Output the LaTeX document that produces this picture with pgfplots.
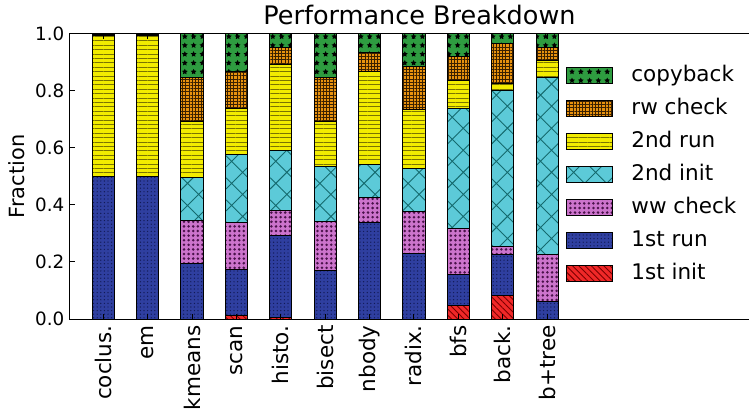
\documentclass[border=0pt]{standalone}
\usepackage{fontspec}
\setmainfont{DejaVu Sans}
\usepackage{pgfplots}
\usepackage{pgfplotstable}
\pgfplotsset{compat=1.18}
\usetikzlibrary{patterns.meta}

\definecolor{cInit}{HTML}{F02828}
\definecolor{cInitP}{HTML}{7A0000}
\definecolor{cRun}{HTML}{2F3FA0}
\definecolor{cRunP}{HTML}{121A55}
\definecolor{cWW}{HTML}{CC74CC}
\definecolor{cWWP}{HTML}{4A124A}
\definecolor{cInitB}{HTML}{5CCAD8}
\definecolor{cInitBP}{HTML}{156A6E}
\definecolor{cRunB}{HTML}{F2EC00}
\definecolor{cRunBP}{HTML}{7A7400}
\definecolor{cRW}{HTML}{E8920E}
\definecolor{cRWP}{HTML}{3A2000}
\definecolor{cCB}{HTML}{2E9C40}

% fraction of time per phase, one row per benchmark
\pgfplotstableread{
x  init   run    ww     initb  runb   rw     cb
0  0.000  0.500  0.000  0.000  0.495  0.003  0.002
1  0.000  0.500  0.000  0.000  0.495  0.003  0.002
2  0.000  0.195  0.150  0.153  0.195  0.154  0.153
3  0.011  0.161  0.165  0.241  0.159  0.133  0.130
4  0.007  0.285  0.089  0.209  0.304  0.059  0.047
5  0.000  0.170  0.173  0.192  0.158  0.154  0.153
6  0.000  0.340  0.088  0.113  0.328  0.066  0.065
7  0.000  0.229  0.149  0.151  0.206  0.152  0.113
8  0.046  0.111  0.160  0.420  0.100  0.085  0.078
9  0.084  0.143  0.027  0.548  0.026  0.137  0.035
10 0.000  0.060  0.165  0.624  0.057  0.047  0.047
}\breakdown

\pgfplotsset{
  leg/.style={legend image code/.code={\draw[##1] (0bp,-4bp) rectangle (23bp,4bp);}},
}

\begin{document}
\begin{tikzpicture}
\begin{axis}[
  scale only axis,
  width=349.5bp, height=142.5bp,
  ybar stacked,
  bar width=0.5,
  xmin=-0.75, xmax=15,
  ymin=0, ymax=1,
  axis on top,
  axis line style={line width=0.5bp, black},
  tick style={line width=0.5bp, black},
  major tick length=2.5bp,
  tick align=inside,
  xtick={0,...,10},
  xticklabels={coclus., em, kmeans, scan, histo., bisect, nbody, radix., bfs, back., b+tree},
  xticklabel style={rotate=90, anchor=east, inner sep=3bp, font=\fontsize{10.8}{12}\selectfont},
  ytick={0,0.2,...,1.0},
  yticklabel style={/pgf/number format/.cd, fixed, fixed zerofill, precision=1, assume math mode=true,
    /tikz/.cd, inner sep=0pt, xshift=-2.6bp, font=\fontsize{9.2}{11}\selectfont},
  ylabel={Fraction},
  every axis y label/.style={at={(rel axis cs:0,0.5)}, xshift=-26.5bp, rotate=90, anchor=center,
    font=\fontsize{10.5}{12}\selectfont},
  title={Performance Breakdown},
  every axis title shift=0pt,
  title style={font=\fontsize{12.8}{14}\selectfont, inner sep=0pt, anchor=base, yshift=4.5bp},
  reverse legend,
  legend cell align=left,
  legend style={at={(0.7096,0.89)}, anchor=north west, draw=none, fill=none,
    inner sep=0pt, row sep=6.5bp, font=\fontsize{10.8}{12}\selectfont,
    nodes={inner sep=0pt, text height=8bp, text depth=2bp},
    /tikz/every odd column/.append style={column sep=9bp}},
]
\addplot[fill=cInit, draw=black, line width=0.5bp,
  postaction={pattern={Lines[angle=-45,distance=2.2bp,line width=0.45bp]}, pattern color=cInitP}, leg]
  table[x=x, y=init] {\breakdown};
\addlegendentry{1st init}
\addplot[fill=cRun, draw=black, line width=0.5bp,
  postaction={pattern={Dots[distance=1.8bp,radius=0.35bp]}, pattern color=cRunP}, leg]
  table[x=x, y=run] {\breakdown};
\addlegendentry{1st run}
\addplot[fill=cWW, draw=black, line width=0.5bp,
  postaction={pattern={Dots[distance=2.3bp,radius=0.7bp]}, pattern color=cWWP}, leg]
  table[x=x, y=ww] {\breakdown};
\addlegendentry{ww check}
\addplot[fill=cInitB, draw=black, line width=0.5bp,
  postaction={pattern={Hatch[angle=45,distance=7.8bp,line width=0.45bp]}, pattern color=cInitBP}, leg]
  table[x=x, y=initb] {\breakdown};
\addlegendentry{2nd init}
\addplot[fill=cRunB, draw=black, line width=0.5bp,
  postaction={pattern={Lines[angle=0,distance=2.2bp,line width=0.5bp]}, pattern color=cRunBP}, leg]
  table[x=x, y=runb] {\breakdown};
\addlegendentry{2nd run}
\addplot[fill=cRW, draw=black, line width=0.5bp,
  postaction={pattern={Hatch[angle=0,distance=1.6bp,line width=0.3bp]}, pattern color=cRWP}, leg]
  table[x=x, y=rw] {\breakdown};
\addlegendentry{rw check}
\addplot[fill=cCB, draw=black, line width=0.5bp,
  postaction={pattern={Stars[distance=4.4bp,radius=1.5bp,points=5]}, pattern color=black}, leg]
  table[x=x, y=cb] {\breakdown};
\addlegendentry{copyback}
\coordinate (ll) at (rel axis cs:0,0);
\end{axis}
\pgfresetboundingbox
\path[use as bounding box] ([xshift=-35bp,yshift=-48bp]ll) rectangle ([xshift=339.5bp,yshift=159.5bp]ll);
\end{tikzpicture}
\end{document}
